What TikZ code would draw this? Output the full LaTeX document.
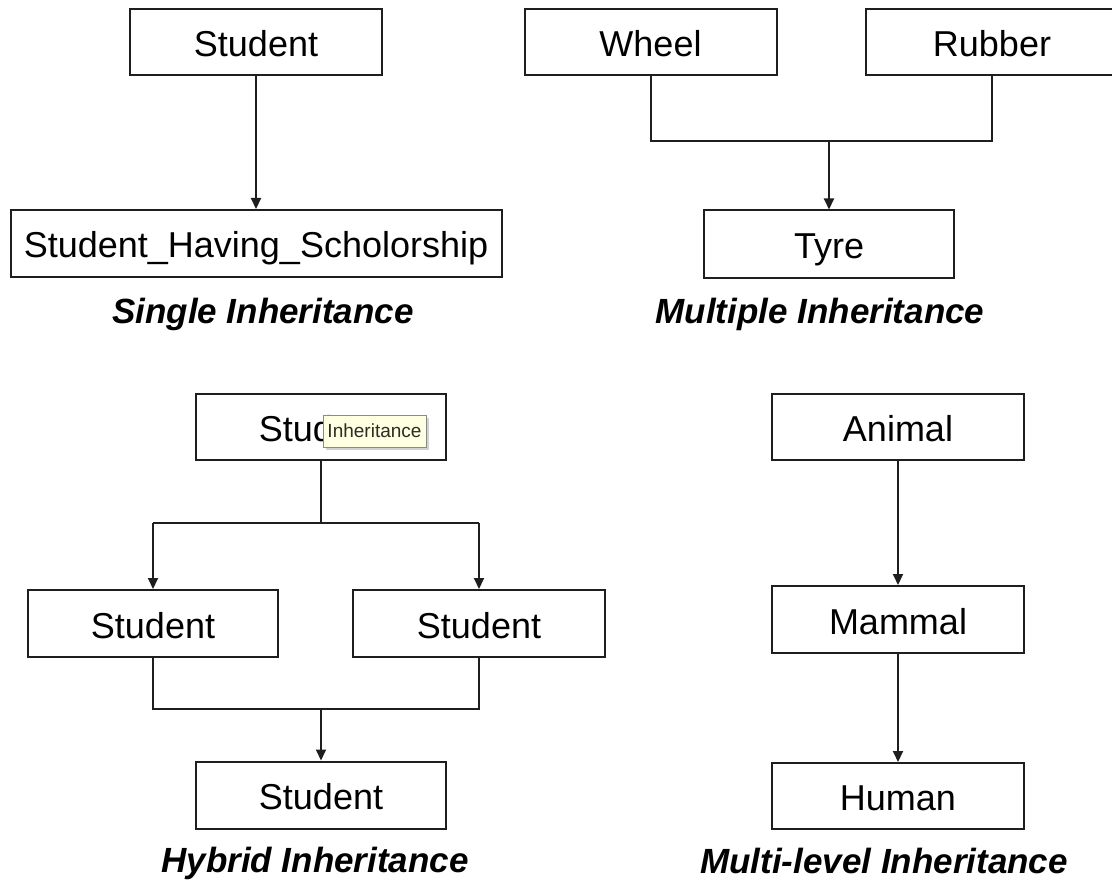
\documentclass[tikz,border=0pt]{standalone}
\usepackage{fontspec}
\setmainfont{Liberation Sans}
\usetikzlibrary{arrows.meta,shadows}
\definecolor{ink}{HTML}{1E1E1E}
\definecolor{tipfill}{HTML}{FFFFE1}
\definecolor{tipedge}{HTML}{8A8A8A}
\definecolor{tiptext}{HTML}{2E2A26}
\begin{document}
\begin{tikzpicture}[x=1pt,y=-1pt,
  classbox/.style={draw=ink, line width=2pt, fill=white, inner sep=0pt,
    minimum height=66pt, text height=29pt, text depth=0pt,
    font=\fontsize{36}{40}\selectfont},
  caption/.style={inner sep=0pt, text height=25pt, text depth=0pt,
    font=\fontsize{35}{40}\selectfont\bfseries\itshape},
  link/.style={draw=ink, line width=2pt, line join=miter},
  inherit/.style={link, -{Triangle[length=11pt,width=10pt]}},
  tooltip/.style={draw=tipedge, line width=1pt, fill=tipfill, inner sep=0pt,
    minimum width=103pt, minimum height=32pt, text=tiptext,
    font=\fontsize{19}{20}\selectfont,
    drop shadow={shadow xshift=3pt, shadow yshift=-3pt, opacity=0.35}}]
\useasboundingbox (0,0) rectangle (1112,880);
\clip (0,0) rectangle (1112,880);

% Single inheritance
\node[classbox, minimum width=252pt] (stu) at (256,42) {Student};
\node[classbox, minimum width=491pt, minimum height=67pt] (shs) at (256,243.5) {Student\_Having\_Scholorship};
\node[caption] (capsingle) at (263,311) {Single Inheritance};
\draw[inherit] (stu.south) -- (shs.north);

% Multiple inheritance
\node[classbox, minimum width=252pt] (wheel) at (650.5,42) {Wheel};
\node[classbox, minimum width=252pt] (rubber) at (992,42) {Rubber};
\node[classbox, minimum width=250pt, minimum height=67pt] (tyre) at (829,244) {Tyre};
\node[caption] (capmultiple) at (820,311) {Multiple Inheritance};
\coordinate (jm) at (829,141);
\draw[link] (wheel.south) -- (wheel.south |- jm) -- (rubber.south |- jm) -- (rubber.south);
\draw[inherit] (jm) -- (tyre.north);

% Hybrid inheritance
\node[classbox, minimum width=250pt] (hbase) at (321,427) {Student};
\node[classbox, minimum width=250pt, minimum height=67pt] (hleft) at (153,623.5) {Student};
\node[classbox, minimum width=252pt, minimum height=67pt] (hright) at (479,623.5) {Student};
\node[classbox, minimum width=250pt, minimum height=67pt] (hbottom) at (321,795) {Student};
\node[caption] (caphybrid) at (315,860) {Hybrid Inheritance};
\coordinate (jh) at (321,523);
\coordinate (jb) at (321,709);
\draw[link] (hbase.south) -- (jh);
\draw[link] (hleft.north |- jh) -- (hright.north |- jh);
\draw[inherit] (hleft.north |- jh) -- (hleft.north);
\draw[inherit] (hright.north |- jh) -- (hright.north);
\draw[link] (hleft.south) -- (hleft.south |- jb) -- (hright.south |- jb) -- (hright.south);
\draw[inherit] (jb) -- (hbottom.north);

% Hover label over the hybrid base class
\node[tooltip] (tip) at (374.5,431) {Inheritance};

% Multi-level inheritance
\node[classbox, minimum width=252pt] (animal) at (898,427) {Animal};
\node[classbox, minimum width=252pt, minimum height=67pt] (mammal) at (898,619.5) {Mammal};
\node[classbox, minimum width=252pt] (human) at (898,796) {Human};
\node[caption] (capmulti) at (884,861) {Multi-level Inheritance};
\draw[inherit] (animal.south) -- (mammal.north);
\draw[inherit] (mammal.south) -- (human.north);
\end{tikzpicture}
\end{document}
